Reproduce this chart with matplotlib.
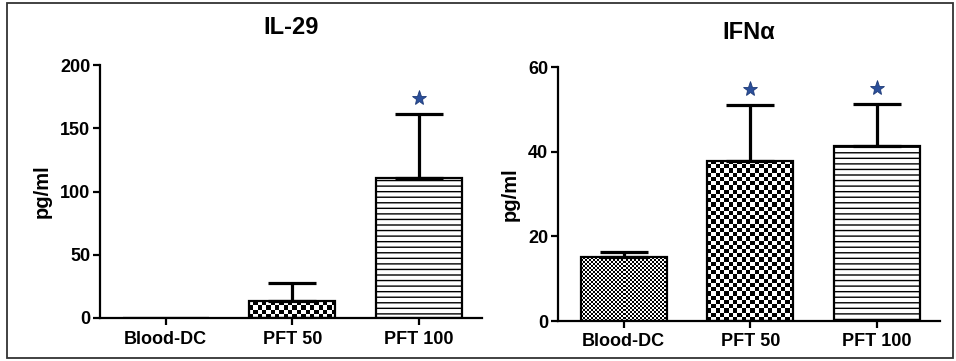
import numpy as np
import matplotlib
matplotlib.use("Agg")
import matplotlib.pyplot as plt
from matplotlib.patches import Rectangle

plt.rcParams['font.family'] = ['Liberation Sans', 'DejaVu Sans']
plt.rcParams['font.weight'] = 'bold'
plt.rcParams['hatch.linewidth'] = 1.0

categories = ["Blood-DC", "PFT 50", "PFT 100"]

il29_title = "IL-29"
il29_values = [0.0, 13.4, 110.7]
il29_err = [0.0, 14.3, 50.3]
il29_star = [None, None, 174]
il29_ylim = 200
il29_ticks = [0, 50, 100, 150, 200]
il29_patterns = ["checker_fine", "checker", "lines"]

ifn_title = "IFN\u03b1"
ifn_values = [15.1, 37.8, 41.3]
ifn_err = [1.2, 13.2, 10.0]
ifn_star = [None, 54.8, 55.0]
ifn_ylim = 60
ifn_ticks = [0, 20, 40, 60]
ifn_patterns = ["checker_fine", "checker", "lines"]

W, H = 956, 361
fig = plt.figure(figsize=(W / 100, H / 100), dpi=100)

# figure border
fig.add_artist(Rectangle((7 / W, 3 / H), (953 - 7) / W, (358 - 3) / H,
                         transform=fig.transFigure, fill=False,
                         edgecolor="#333333", linewidth=1.3))

ax1 = fig.add_axes([100 / W, (H - 318) / H, 382 / W, 253 / H])
ax2 = fig.add_axes([558 / W, (H - 321) / H, 382 / W, 254 / H])

bar_w = 0.68


def checker(n_x, n_y):
    yy, xx = np.mgrid[0:n_y, 0:n_x]
    return ((xx + yy) % 2).astype(float)


def draw_panel(ax, title, values, err, stars, ylim, ticks, patterns, title_pad):
    x = np.arange(len(categories))
    ax.set_xlim(-0.52, 2.5)
    ax.set_ylim(0, ylim)
    bars = []
    for xi, v, p in zip(x, values, patterns):
        hatch = '---' if p == "lines" else None
        b = ax.bar(xi, v, width=bar_w, facecolor="white", edgecolor="black",
                   linewidth=1.6, hatch=hatch, zorder=2)
        bars.append(b[0])
    # error bars (upper only)
    for xi, v, e in zip(x, values, err):
        if e > 0:
            ax.errorbar([xi], [v], yerr=[[0], [e]], fmt='none', ecolor="black",
                        elinewidth=2.3, capsize=17, capthick=2.3, zorder=3)
    for xi, s in zip(x, stars):
        if s is not None:
            ax.plot([xi], [s], marker='*', markersize=11, color="#2b4f9a",
                    markeredgecolor="#1d3a78", markeredgewidth=0.6, zorder=4)
    ax.set_title(title, fontsize=17, fontweight='bold', pad=title_pad)
    ax.set_ylabel("pg/ml", fontsize=14.5, fontweight='bold', labelpad=6)
    ax.set_xticks(x)
    ax.set_xticklabels(categories, fontsize=13, fontweight='bold')
    ax.set_yticks(ticks)
    ax.set_yticklabels([str(t) for t in ticks], fontsize=13, fontweight='bold')
    for s in ["top", "right"]:
        ax.spines[s].set_visible(False)
    for s in ["left", "bottom"]:
        ax.spines[s].set_linewidth(1.6)
    ax.tick_params(axis='both', direction='out', length=5, width=1.6, pad=2)
    ax.tick_params(axis='x', pad=4)
    return bars


bars1 = draw_panel(ax1, il29_title, il29_values, il29_err, il29_star,
                   il29_ylim, il29_ticks, il29_patterns, 22)
bars2 = draw_panel(ax2, ifn_title, ifn_values, ifn_err, ifn_star,
                   ifn_ylim, ifn_ticks, ifn_patterns, 20)

fig.canvas.draw()


def fill_checker(ax, bars, patterns, values):
    xl, yl = ax.get_xlim(), ax.get_ylim()
    for b, p, v in zip(bars, patterns, values):
        if not p.startswith("checker") or v <= 0:
            continue
        cell = 2.0 if p == "checker_fine" else 4.2
        x0, y0 = b.get_x(), b.get_y()
        x1, y1 = x0 + b.get_width(), y0 + b.get_height()
        p0 = ax.transData.transform((x0, y0))
        p1 = ax.transData.transform((x1, y1))
        nx = max(1, int(round(abs(p1[0] - p0[0]) / cell)))
        ny = max(1, int(round(abs(p1[1] - p0[1]) / cell)))
        im = ax.imshow(checker(nx, ny), cmap="gray", vmin=0, vmax=1,
                       extent=(x0, x1, y0, y1), aspect='auto',
                       interpolation='nearest', zorder=1.5, origin='lower')
        im.set_clip_path(b)
    ax.set_xlim(xl)
    ax.set_ylim(yl)
    for b in bars:
        b.set_facecolor("none")


fill_checker(ax1, bars1, il29_patterns, il29_values)
fill_checker(ax2, bars2, ifn_patterns, ifn_values)

fig.savefig("out.png", dpi=100)
